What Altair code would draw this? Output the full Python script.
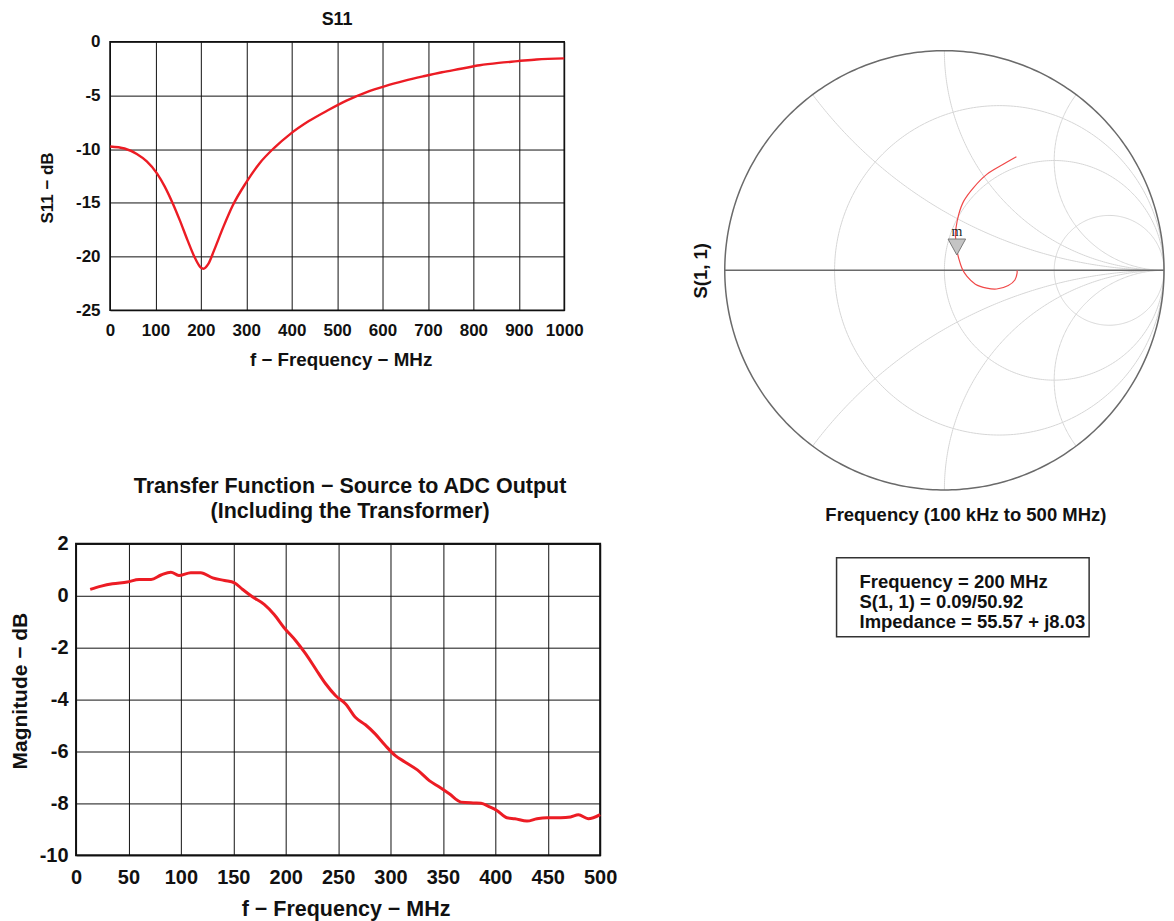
import altair as alt
import numpy as np
import pandas as pd

FONT = "Liberation Sans"
RED = "#ec1c24"
INK = "#111111"

# ---------------- S11 (dB) vs frequency ----------------
s11_freq_mhz = [0.5, 32, 59, 81, 103.4, 120, 137, 153.8, 170.6, 187.4,
                200, 205.8, 216.5, 228.9, 249.6, 270.2, 299.2, 328.6, 362.2, 396,
                437.8, 479.8, 521.8, 563.9, 605.8, 647.5, 689, 730.8, 772.5, 814,
                855.8, 897.5, 939, 1000]
s11_db = [-9.75, -9.94, -10.45, -11.14, -12.25, -13.44, -14.94, -16.63, -18.47, -20.16,
          -21.03, -21.13, -20.69, -19.45, -17.24, -15.25, -13.14, -11.35, -9.85, -8.62,
          -7.39, -6.38, -5.46, -4.71, -4.13, -3.65, -3.23, -2.84, -2.52, -2.19,
          -1.97, -1.81, -1.65, -1.55]
s11_x_ticks = list(range(0, 1001, 100))
s11_y_ticks = list(range(-25, 1, 5))

# ---------------- Transfer function ----------------
tf_freq_mhz = [13.5, 24.1, 34.8, 48.9, 60.2, 71.6, 81.1, 90.5, 98.1, 109.5,
               118.9, 130.3, 141.7, 151.1, 158.7, 168.2, 179.5, 189, 198.5, 209.8,
               219.3, 228.8, 238.3, 247.7, 257.2, 266.7, 276.1, 285.6, 295.1, 304.6,
               314.1, 325.6, 337, 346.6, 356.1, 367.4, 378.8, 386.4, 394, 401.5,
               411, 418.7, 430.2, 439.7, 449.2, 462.4, 471.8, 479.3, 488.7, 500]
tf_db = [0.245, 0.37, 0.46, 0.53, 0.63, 0.63, 0.80, 0.91, 0.78, 0.89,
         0.89, 0.69, 0.59, 0.50, 0.25, -0.04, -0.33, -0.72, -1.23, -1.74,
         -2.25, -2.83, -3.40, -3.85, -4.17, -4.69, -4.97, -5.33, -5.77, -6.16,
         -6.41, -6.71, -7.12, -7.37, -7.63, -7.95, -7.98, -7.99, -8.12, -8.27,
         -8.55, -8.59, -8.68, -8.59, -8.55, -8.55, -8.52, -8.44, -8.59, -8.43]
tf_x_ticks = list(range(0, 501, 50))
tf_y_ticks = list(range(-10, 3, 2))

# ---------------- Smith chart trace (reflection coefficient, low -> high freq) ----------------
smith_re = [0.331, 0.331, 0.321, 0.291, 0.238, 0.193, 0.141, 0.103, 0.080, 0.065,
            0.058, 0.054, 0.050, 0.053, 0.065, 0.088, 0.133, 0.193, 0.268, 0.328]
smith_im = [0.000, -0.013, -0.044, -0.069, -0.085, -0.081, -0.063, -0.028, 0.010, 0.056,
            0.086, 0.125, 0.162, 0.194, 0.254, 0.315, 0.377, 0.437, 0.483, 0.517]
marker_mag = 0.09
marker_deg = 50.92
r_circles = [1 / 3, 1.0, 3.0]
x_arcs = [0.5, 1.0, 2.0]

box_lines = ["Frequency = 200 MHz", "S(1, 1) = 0.09/50.92", "Impedance = 55.57 + j8.03"]

LABEL_EXPR = "(datum.value < 0 ? '-' : '') + abs(datum.value)"


def lin_axis(values, lab_size, title, title_size, lab_pad, title_pad, **kw):
    return alt.Axis(values=values, title=title, grid=True, gridColor=INK, gridWidth=1,
                    ticks=False, domain=False, labelFont=FONT, labelFontSize=lab_size,
                    labelFontWeight="bold", labelColor=INK, labelPadding=lab_pad,
                    labelFlush=False, labelOverlap=False, labelExpr=LABEL_EXPR,
                    titleFont=FONT, titleFontSize=title_size, titleFontWeight="bold",
                    titleColor=INK, titlePadding=title_pad, **kw)


# ---------------- S11 panel ----------------
s11_df = pd.DataFrame({"f": s11_freq_mhz, "db": s11_db})
s11 = alt.Chart(s11_df).mark_line(color=RED, strokeWidth=2.4, interpolate="monotone").encode(
    x=alt.X("f:Q", scale=alt.Scale(domain=[0, 1000], nice=False),
            axis=lin_axis(s11_x_ticks, 17, "f \u2212 Frequency \u2212 MHz", 18.8, 12, 12, titleX=231)),
    y=alt.Y("db:Q", scale=alt.Scale(domain=[-25, 0], nice=False),
            axis=lin_axis(s11_y_ticks, 17, "S11 \u2212 dB", 17, 10, 19, titleY=146)),
).properties(
    width=455, height=269,
    title=alt.TitleParams("S11", font=FONT, fontSize=18, fontWeight="bold", color=INK,
                          offset=4, anchor="middle"),
    view=alt.ViewBackground(stroke=INK, strokeWidth=1.5),
)

# ---------------- Transfer function panel ----------------
tf_df = pd.DataFrame({"f": tf_freq_mhz, "db": tf_db})
tf = alt.Chart(tf_df).mark_line(color=RED, strokeWidth=3, interpolate="monotone").encode(
    x=alt.X("f:Q", scale=alt.Scale(domain=[0, 500], nice=False),
            axis=lin_axis(tf_x_ticks, 20, "f \u2212 Frequency \u2212 MHz", 21.5, 12, 11, titleX=270)),
    y=alt.Y("db:Q", scale=alt.Scale(domain=[-10, 2], nice=False),
            axis=lin_axis(tf_y_ticks, 20, "Magnitude \u2212 dB", 21, 8, 9, titleY=147)),
).properties(
    width=525, height=312,
    title=alt.TitleParams(["Transfer Function \u2212 Source to ADC Output", "(Including the Transformer)"],
                          font=FONT, fontSize=21.5, fontWeight="bold", color=INK,
                          offset=11, anchor="middle", dx=12, lineHeight=25),
    view=alt.ViewBackground(stroke=INK, strokeWidth=2),
)

# ---------------- Smith chart ----------------
R_PX = 220
TOP_GAP = 9
grid_rows = []
t_full = np.linspace(0, 2 * np.pi, 361)
for r in r_circles:
    c, rad = r / (1 + r), 1 / (1 + r)
    for i, tt in enumerate(t_full):
        grid_rows.append({"gx": c + rad * np.cos(tt), "gy": rad * np.sin(tt), "g": f"r{r:.4f}", "o": i})
for x in x_arcs:
    ix, iy = (x * x - 1) / (x * x + 1), 2 * x / (x * x + 1)
    a0 = np.arctan2(iy - 1 / x, ix - 1) % (2 * np.pi)
    ts = np.linspace(a0, 1.5 * np.pi, 181)
    for sgn in (1, -1):
        for i, tt in enumerate(ts):
            grid_rows.append({"gx": 1 + np.cos(tt) / x, "gy": sgn * (1 / x + np.sin(tt) / x),
                              "g": f"x{sgn * x:.3f}", "o": i})
grid_df = pd.DataFrame(grid_rows)
outer_df = pd.DataFrame({"gx": np.cos(t_full), "gy": np.sin(t_full), "o": np.arange(len(t_full))})
axis_df = pd.DataFrame({"gx": [-1.0], "gx2": [1.0], "gy": [0.0]})
trace_df = pd.DataFrame({"gx": smith_re, "gy": smith_im, "o": range(len(smith_re))})
marker_df = pd.DataFrame({"gx": [marker_mag * np.cos(np.radians(marker_deg))],
                          "gy": [marker_mag * np.sin(np.radians(marker_deg))]})

sx = alt.Scale(domain=[-1, 1], nice=False, zero=False)
sy = alt.Scale(domain=[-1, 1 + TOP_GAP / R_PX], nice=False, zero=False)
ax_x = alt.Axis(title="Frequency (100 kHz to 500 MHz)", labels=False, ticks=False, domain=False,
                grid=False, titleFont=FONT, titleFontSize=18.5, titleFontWeight="bold",
                titleColor=INK, titlePadding=16, titleX=241)
ax_y = alt.Axis(title="S(1, 1)", labels=False, ticks=False, domain=False, grid=False,
                titleFont=FONT, titleFontSize=18.5, titleFontWeight="bold", titleColor=INK,
                titlePadding=14, titleY=TOP_GAP + R_PX)
X = alt.X("gx:Q", scale=sx, axis=ax_x)
Y = alt.Y("gy:Q", scale=sy, axis=ax_y)

grid_l = alt.Chart(grid_df).mark_line(color="#d6d6d6", strokeWidth=1, strokeJoin="round").encode(
    x=X, y=Y, detail="g:N", order="o:Q")
outer_l = alt.Chart(outer_df).mark_line(color="#6a6a6a", strokeWidth=1.5, strokeJoin="round").encode(
    x=X, y=Y, order="o:Q")
axis_l = alt.Chart(axis_df).mark_rule(color="#6a6a6a", strokeWidth=1.5).encode(x=X, x2="gx2:Q", y=Y)
trace_l = alt.Chart(trace_df).mark_line(color="#f04848", strokeWidth=1.2, strokeJoin="round",
                                        interpolate="catmull-rom").encode(x=X, y=Y, order="o:Q")
marker_l = alt.Chart(marker_df).mark_point(shape="M-1.1,-2L1.1,-2L0,0Z", size=256, filled=True,
                                            fill="#c4c4c4", stroke="#7a7a7a", strokeWidth=1,
                                            opacity=1).encode(x=X, y=Y)
m_l = alt.Chart(marker_df).mark_text(text="m", font="Liberation Serif", fontSize=14, color="#222222",
                                     dy=-23).encode(x=X, y=Y)
smith = alt.layer(grid_l, outer_l, axis_l, trace_l, marker_l, m_l).properties(
    width=2 * R_PX, height=2 * R_PX + TOP_GAP,
    view=alt.ViewBackground(stroke="transparent"),
)

# ---------------- info box ----------------
box_df = pd.DataFrame({"i": range(len(box_lines)), "t": box_lines})
box = alt.Chart(box_df).mark_text(align="left", baseline="middle", font=FONT, fontSize=18.5,
                                  fontWeight="bold", color=INK).encode(
    x=alt.value(23),
    y=alt.Y("i:Q", scale=alt.Scale(domain=[0, 2], range=[24.5, 64]), axis=None),
    text="t:N",
).properties(width=253, height=79, view=alt.ViewBackground(stroke="#333333", strokeWidth=1.5))

spacer = alt.Chart(pd.DataFrame({"v": [0]})).mark_point(size=0, opacity=0).encode(
    x=alt.value(0), y=alt.value(0)
).properties(width=1, height=1, view=alt.ViewBackground(stroke="transparent"))

left = alt.vconcat(s11, tf, spacing=105, center=True)
right = alt.vconcat(smith, alt.hconcat(spacer, box, spacing=109), spacing=32)
chart = alt.hconcat(left, right, spacing=73).properties(
    padding={"left": 0, "top": 1, "right": 0, "bottom": 0}
).configure(font=FONT)

chart.save("out.html", embed_options={"renderer": "svg", "actions": False})
